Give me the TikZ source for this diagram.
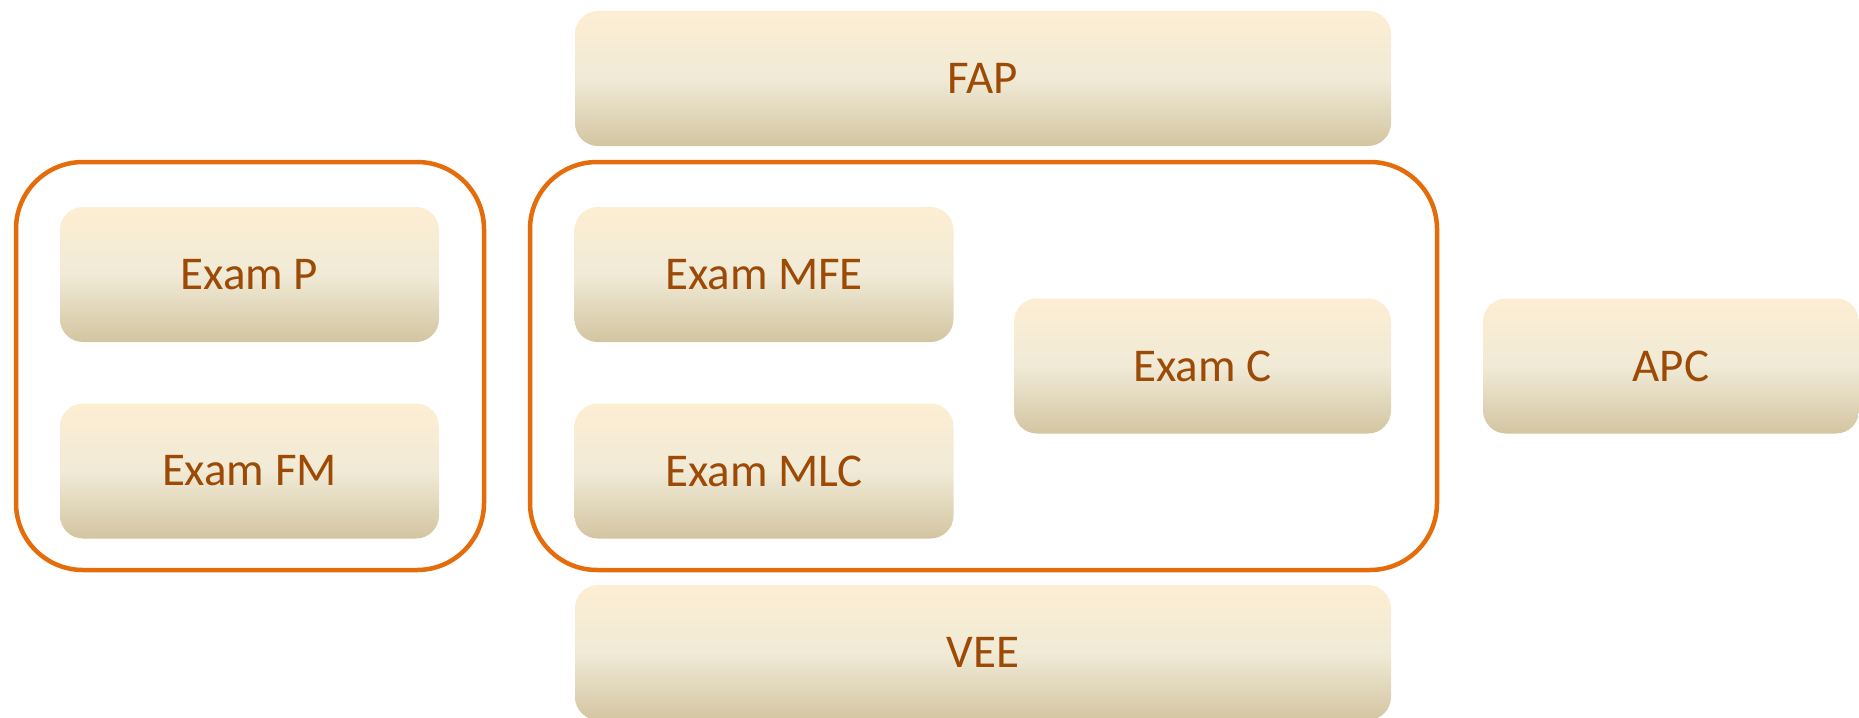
\documentclass[tikz,border=0pt]{standalone}
\usepackage{fontspec}
\setmainfont{Carlito}
\definecolor{txt}{RGB}{156,74,6}
\definecolor{frame}{RGB}{228,108,10}
\definecolor{gtop}{RGB}{253,238,211}
\definecolor{gmid}{RGB}{240,234,214}
\definecolor{gbot}{RGB}{211,197,161}
\begin{document}
\begin{tikzpicture}[x=1pt,y=-1pt,
  exambox/.style={rounded corners=23pt, top color=gtop, bottom color=gbot, middle color=gmid,
    draw=none, text=txt, font=\fontsize{47}{56}\selectfont, inner sep=0pt},
  smallbox/.style={exambox, minimum width=379pt, minimum height=135pt},
  widebox/.style={exambox, minimum width=816pt, minimum height=135pt},
  group/.style={draw=frame, line width=4.5pt, rounded corners=67pt, inner sep=0pt, minimum height=408pt}]
\useasboundingbox (0,0) rectangle (1859,717);
% groups
\node[group, minimum width=468pt] (g1) at (250,366) {};
\node[group, minimum width=907pt] (g2) at (983.5,366) {};
% boxes
\node[widebox] (FAP) at (983,78.5) {FAP};
\node[smallbox] (P) at (249.5,274.5) {Exam P};
\node[smallbox] (FM) at (249.5,471) {Exam FM};
\node[smallbox] (MFE) at (764,274.5) {Exam MFE};
\node[smallbox] (MLC) at (764,471) {Exam MLC};
\node[smallbox, minimum width=377pt] (C) at (1202.5,366) {Exam C};
\node[smallbox, minimum width=376pt] (APC) at (1671,366) {APC};
\node[widebox] (VEE) at (983,652.5) {VEE};
\end{tikzpicture}
\end{document}
